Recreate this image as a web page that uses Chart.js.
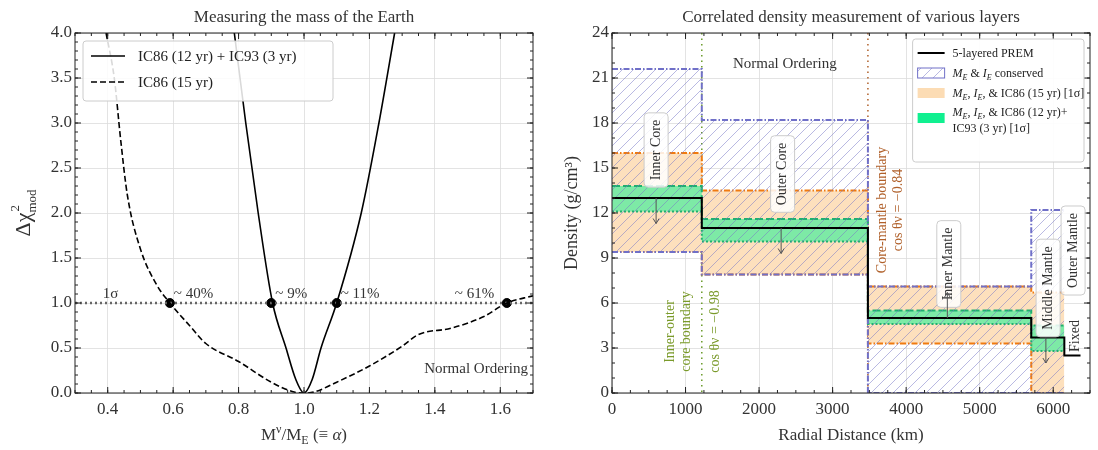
<!DOCTYPE html>
<html><head><meta charset="utf-8">
<script src="https://cdn.jsdelivr.net/npm/chart.js@4.4.1/dist/chart.umd.min.js"></script>
<style>body{margin:0;background:#fff}#w{display:flex;width:1098px;height:450px}.c{position:relative;width:549px;height:450px}</style>
</head><body><div id="w"><div class="c"><canvas id="a" width="549" height="450"></canvas></div><div class="c"><canvas id="b" width="549" height="450"></canvas></div></div>
<script>
// ---- Left panel data ----
const solidX = [0.787,0.822,0.86,0.904,0.945,0.975,1.0,1.025,1.052,1.10,1.175,1.229,1.277];
const solidY = [4.0,3.0,2.0,1.0,0.5,0.15,0.0,0.15,0.5,1.0,2.0,3.0,4.0];
const dashX = [0.395,0.42,0.44,0.46,0.5,0.55,0.59,0.65,0.7,0.8,0.9,0.97,1.0,1.03,1.1,1.2,1.3,1.35,1.45,1.55,1.62,1.7];
const dashY = [4.0,3.5,2.8,2.2,1.6,1.2,1.0,0.75,0.55,0.35,0.12,0.01,0,0.01,0.12,0.3,0.52,0.65,0.72,0.85,1.0,1.08];
const dotX = [0.59,0.9,1.1,1.62];
const dotLabels = ['~ 40%','~ 9%','~ 11%','~ 61%'];
// ---- Right panel data ----
const layerEdges = [0,1221,3480,5701,6151];
const blueUpper = [21.6,18.2,7.1,12.2];
const blueLower = [9.4,7.9,0,0];
const orangeUpper = [16.0,13.5,7.1,6.7];
const orangeLower = [9.4,7.9,3.3,0];
const greenUpper = [13.8,11.6,5.5,4.5];
const greenLower = [12.1,10.1,4.6,2.8];
const premEdges = [0,1221,3480,5701,6151,6371];
const premVals = [13.0,11.0,5.0,3.7,2.5];

const FONT = "'Liberation Serif', 'DejaVu Serif', serif";
Chart.defaults.font.family = FONT;
Chart.defaults.color = '#333';

function steps(edges, vals){
  const p=[];
  vals.forEach((v,i)=>{p.push({x:edges[i],y:v});p.push({x:edges[i+1],y:v});});
  return p;
}
function xy(xs,ys){return xs.map((x,i)=>({x,y:ys[i]}));}

function hatch(color){
  const s=11;const c=document.createElement('canvas');c.width=s;c.height=s;
  const g=c.getContext('2d');g.strokeStyle=color;g.lineWidth=0.7;
  g.beginPath();g.moveTo(0,s);g.lineTo(s,0);g.moveTo(-2,2);g.lineTo(2,-2);g.moveTo(s-2,s+2);g.lineTo(s+2,s-2);g.stroke();
  return g.createPattern(c,'repeat');
}

const tickPlugin = {id:'ticks',afterDraw(ch,args,o){
  const {ctx,chartArea:a,scales:{x,y}}=ch;
  ctx.save();ctx.strokeStyle='#222';ctx.lineWidth=1;
  ctx.strokeRect(a.left,a.top,a.right-a.left,a.bottom-a.top);
  const one=(p,len,horiz)=>{ctx.beginPath();
    if(horiz){ctx.moveTo(p,a.bottom);ctx.lineTo(p,a.bottom-len);ctx.moveTo(p,a.top);ctx.lineTo(p,a.top+len);}
    else{ctx.moveTo(a.left,p);ctx.lineTo(a.left+len,p);ctx.moveTo(a.right,p);ctx.lineTo(a.right-len,p);}ctx.stroke();};
  const n1=Math.round((x.max-x.min)/o.xmin);for(let i=0;i<=n1;i++)one(x.getPixelForValue(x.min+i*o.xmin),3,true);
  const n2=Math.round((y.max-y.min)/o.ymin);for(let i=0;i<=n2;i++)one(y.getPixelForValue(y.min+i*o.ymin),3,false);
  x.ticks.forEach(t=>one(x.getPixelForValue(t.value),6,true));
  y.ticks.forEach(t=>one(y.getPixelForValue(t.value),6,false));
  ctx.restore();
}};

const gridOpt={color:'#dcdcdc',lineWidth:0.8,tickLength:0};
const borderOpt={display:false};

// ---------- Left chart ----------
const leftAnno={id:'leftAnno',afterDraw(ch){
  const {ctx,chartArea:a,scales:{x,y}}=ch;ctx.save();
  ctx.fillStyle='#333';ctx.font='17px '+FONT;ctx.textAlign='center';
  ctx.fillText('Measuring the mass of the Earth',(a.left+a.right)/2,22);
  ctx.textAlign='left';const cx=(a.left+a.right)/2, ty=440;
  const parts=[['M',17,0],['ν',12,-7],['/M',17,0],['E',12,4],[' (≡ ',17,0],['α',17,0,'italic '],[')',17,0]];
  let tw=0;parts.forEach(p=>{ctx.font=(p[3]||'')+p[1]+'px '+FONT;tw+=ctx.measureText(p[0]).width;});
  let px=cx-tw/2;parts.forEach(p=>{ctx.font=(p[3]||'')+p[1]+'px '+FONT;ctx.fillText(p[0],px,ty+p[2]);px+=ctx.measureText(p[0]).width;});
  ctx.save();ctx.translate(24,(a.top+a.bottom)/2);ctx.rotate(-Math.PI/2);
  ctx.font='22px '+FONT;const w1=ctx.measureText('Δχ').width;ctx.font='13px '+FONT;const w2=ctx.measureText('mod').width;
  let sx=-(w1+w2)/2;ctx.font='22px '+FONT;ctx.fillText('Δχ',sx,6);ctx.font='13px '+FONT;ctx.fillText('2',sx+w1+1,-5);ctx.fillText('mod',sx+w1,12);
  ctx.restore();
  ctx.font='15px '+FONT;ctx.textAlign='left';
  ctx.fillText('1σ',x.getPixelForValue(0.385),y.getPixelForValue(1.06));
  dotLabels.forEach((t,i)=>{
    const p=x.getPixelForValue(dotX[i]);
    const off=i===3?-52:4;
    ctx.fillText(t,p+off,y.getPixelForValue(1.06));
  });
  ctx.textAlign='right';ctx.fillText('Normal Ordering',a.right-5,y.getPixelForValue(0.22));
  const lx=a.left+8,ly=a.top+8;
  ctx.fillStyle='rgba(255,255,255,0.85)';ctx.strokeStyle='#ccc';ctx.lineWidth=1;
  ctx.beginPath();ctx.roundRect(lx,ly,250,60,3);ctx.fill();ctx.stroke();
  ctx.strokeStyle='#000';ctx.lineWidth=1.6;
  ctx.beginPath();ctx.moveTo(lx+8,ly+15);ctx.lineTo(lx+42,ly+15);ctx.stroke();
  ctx.setLineDash([6,3]);ctx.beginPath();ctx.moveTo(lx+8,ly+41);ctx.lineTo(lx+42,ly+41);ctx.stroke();ctx.setLineDash([]);
  ctx.fillStyle='#222';ctx.textAlign='left';ctx.font='15px '+FONT;
  ctx.fillText('IC86 (12 yr) + IC93 (3 yr)',lx+55,ly+20);
  ctx.fillText('IC86 (15 yr)',lx+55,ly+46);
  ctx.restore();
}};
new Chart(document.getElementById('a'),{
  type:'scatter',
  data:{datasets:[
    {data:xy(solidX,solidY),showLine:true,borderColor:'#000',borderWidth:1.6,pointRadius:0,cubicInterpolationMode:'monotone'},
    {data:xy(dashX,dashY),showLine:true,borderColor:'#000',borderWidth:1.6,borderDash:[6,3],pointRadius:0,cubicInterpolationMode:'monotone'},
    {data:[{x:0.3,y:1},{x:1.7,y:1}],showLine:true,borderColor:'#666',borderWidth:2.5,borderDash:[2,3],pointRadius:0},
    {data:dotX.map(v=>({x:v,y:1})),pointRadius:4.5,pointBackgroundColor:'#000',pointBorderColor:'#000'}
  ]},
  options:{responsive:false,animation:false,events:[],
    layout:{padding:{top:33,right:16,left:0,bottom:0}},
    plugins:{legend:{display:false},tooltip:{enabled:false},ticks:{xmin:0.05,ymin:0.1}},
    scales:{
      x:{type:'linear',min:0.3,max:1.7,grid:gridOpt,border:borderOpt,
        afterBuildTicks:s=>{s.ticks=[0.4,0.6,0.8,1.0,1.2,1.4,1.6].map(v=>({value:v}));},
        ticks:{font:{size:17},color:'#333',padding:6,callback:v=>Number(v).toFixed(1)},
        afterFit:s=>{s.height=57;}},
      y:{min:0,max:4,grid:gridOpt,border:borderOpt,
        ticks:{stepSize:0.5,font:{size:17},color:'#333',callback:v=>v.toFixed(1)},
        afterFit:s=>{s.width=75;}}
    }},
  plugins:[tickPlugin,leftAnno]
});
// ---------- Right chart ----------
const blueH=hatch('rgba(120,120,200,0.75)');
function rot(ctx,t,x,y,color,size,box){
  ctx.save();ctx.translate(x,y);ctx.rotate(-Math.PI/2);ctx.font=size+'px '+FONT;ctx.textAlign='center';ctx.textBaseline='middle';
  if(box){const w=ctx.measureText(t).width+14;ctx.fillStyle='rgba(255,255,255,0.85)';ctx.strokeStyle='#ccc';ctx.beginPath();ctx.roundRect(-w/2,-12,w,24,4);ctx.fill();ctx.stroke();}
  ctx.fillStyle=color;ctx.fillText(t,0,0);ctx.restore();
}
function arrow(ctx,x,y1,y2){
  ctx.save();ctx.strokeStyle='#555';ctx.lineWidth=1;
  ctx.beginPath();ctx.moveTo(x,y1);ctx.lineTo(x,y2);ctx.stroke();
  const d=y2>y1?-5:5;
  ctx.beginPath();ctx.moveTo(x-3,y2+d);ctx.lineTo(x,y2);ctx.lineTo(x+3,y2+d);ctx.stroke();ctx.restore();
}
function mixed(ctx,parts,x,y){
  let px=x;parts.forEach(p=>{ctx.font=(p[3]||'')+p[1]+'px '+FONT;ctx.fillText(p[0],px,y+p[2]);px+=ctx.measureText(p[0]).width;});
}
const rightAnno={id:'rightAnno',beforeDatasetsDraw(ch){
  const {ctx,chartArea:a,scales:{x}}=ch;ctx.save();ctx.lineWidth=1.5;ctx.setLineDash([1.5,4]);
  ctx.strokeStyle='#6a9a2a';let px=x.getPixelForValue(1221);ctx.beginPath();ctx.moveTo(px,a.top);ctx.lineTo(px,a.bottom);ctx.stroke();
  ctx.strokeStyle='#b0602a';px=x.getPixelForValue(3480);ctx.beginPath();ctx.moveTo(px,a.top);ctx.lineTo(px,a.bottom);ctx.stroke();
  ctx.restore();
},afterDraw(ch){
  const {ctx,chartArea:a,scales:{x,y}}=ch;ctx.save();
  ctx.fillStyle='#333';ctx.font='17px '+FONT;ctx.textAlign='center';
  ctx.fillText('Correlated density measurement of various layers',(a.left+a.right)/2,22);
  ctx.fillText('Radial Distance (km)',(a.left+a.right)/2,440);
  ctx.save();ctx.translate(22,(a.top+a.bottom)/2);ctx.rotate(-Math.PI/2);ctx.font='18px '+FONT;ctx.fillText('Density (g/cm³)',0,6);ctx.restore();
  const X=v=>x.getPixelForValue(v),Y=v=>y.getPixelForValue(v);
  ctx.font='15px '+FONT;ctx.fillText('Normal Ordering',X(2350),Y(21.7));
  rot(ctx,'Inner Core',X(600),Y(16.2),'#333',14,true);
  rot(ctx,'Outer Core',X(2320),Y(14.6),'#333',14,true);
  rot(ctx,'Inner Mantle',X(4580),Y(8.6),'#333',14,true);
  rot(ctx,'Middle Mantle',X(5930),Y(7.0),'#333',14,true);
  rot(ctx,'Outer Mantle',X(6270),Y(9.5),'#333',14,true);
  rot(ctx,'Fixed',X(6300),Y(3.8),'#333',14,false);
  rot(ctx,'Inner-outer',X(790),Y(4.1),'#7a9a2a',14,false);
  rot(ctx,'core boundary',X(1010),Y(4.1),'#7a9a2a',14,false);
  rot(ctx,'cos θν = −0.98',X(1400),Y(4.1),'#7a9a2a',14,false);
  rot(ctx,'Core-mantle boundary',X(3680),Y(12.2),'#b0602a',14,false);
  rot(ctx,'cos θν = −0.84',X(3900),Y(12.2),'#b0602a',14,false);
  arrow(ctx,X(600),Y(13.0),Y(11.3));arrow(ctx,X(2300),Y(11.0),Y(9.3));
  arrow(ctx,X(4560),Y(5.0),Y(6.7));arrow(ctx,X(5900),Y(3.7),Y(2.0));
  const lx=X(3680)+30,ly=a.top+6,w=a.right-lx-6,h=123;
  ctx.fillStyle='rgba(255,255,255,0.92)';ctx.strokeStyle='#ccc';ctx.lineWidth=1;ctx.beginPath();ctx.roundRect(lx,ly,w,h,3);ctx.fill();ctx.stroke();
  ctx.strokeStyle='#000';ctx.lineWidth=2;ctx.beginPath();ctx.moveTo(lx+5,ly+14);ctx.lineTo(lx+32,ly+14);ctx.stroke();
  ctx.fillStyle=blueH;ctx.fillRect(lx+5,ly+29,27,10);ctx.strokeStyle='#7070c8';ctx.lineWidth=1;ctx.strokeRect(lx+5,ly+29,27,10);
  ctx.fillStyle='#fcdcb4';ctx.fillRect(lx+5,ly+49,27,10);
  ctx.fillStyle='#10f090';ctx.fillRect(lx+5,ly+74,27,10);
  ctx.fillStyle='#222';ctx.textAlign='left';
  const I='italic ';
  mixed(ctx,[['5-layered PREM',12,0]],lx+40,ly+18);
  mixed(ctx,[['M',12,0,I],['E',8,3,I],[' & ',12,0],['I',12,0,I],['E',8,3,I],[' conserved',12,0]],lx+40,ly+38);
  mixed(ctx,[['M',12,0,I],['E',8,3,I],[', ',12,0],['I',12,0,I],['E',8,3,I],[', & IC86 (15 yr) [1σ]',12,0]],lx+40,ly+58);
  mixed(ctx,[['M',12,0,I],['E',8,3,I],[', ',12,0],['I',12,0,I],['E',8,3,I],[', & IC86 (12 yr)+',12,0]],lx+40,ly+77);
  mixed(ctx,[['IC93 (3 yr) [1σ]',12,0]],lx+40,ly+93);
  ctx.restore();
}};
const line=(vals,color,dash,fill,bg,w,order)=>({data:steps(layerEdges,vals),showLine:true,borderColor:color,borderWidth:w||1.5,borderDash:dash,pointRadius:0,fill:fill,backgroundColor:bg,order:order});
new Chart(document.getElementById('b'),{
  type:'scatter',
  data:{datasets:[
    line(orangeLower,'#f07a10',[6,2,1.5,2],false,'transparent',2,5),
    line(orangeUpper,'#f07a10',[6,2,1.5,2],'-1','#fde0bd',2,5),
    line(greenLower,'#20b070',[2,2],false,'transparent',2,4),
    line(greenUpper,'#20b070',[8,3],'-1','rgba(40,240,150,0.6)',2,4),
    line(blueLower,'#7070c8',[6,2,1.5,2],false,'transparent',2,3),
    line(blueUpper,'#7070c8',[6,2,1.5,2],'-1',blueH,2,3),
    {data:steps(premEdges,premVals),showLine:true,borderColor:'#000',borderWidth:2,pointRadius:0,order:1}
  ]},
  options:{responsive:false,animation:false,events:[],
    layout:{padding:{top:33,right:8,left:0,bottom:0}},
    plugins:{legend:{display:false},tooltip:{enabled:false},ticks:{xmin:250,ymin:1},filler:{propagate:false}},
    scales:{
      x:{type:'linear',min:0,max:6500,grid:gridOpt,border:borderOpt,
        afterBuildTicks:s=>{s.ticks=[0,1000,2000,3000,4000,5000,6000].map(v=>({value:v}));},
        ticks:{font:{size:17},color:'#333',padding:6,callback:v=>String(v)},
        afterFit:s=>{s.height=57;}},
      y:{min:0,max:24,grid:gridOpt,border:borderOpt,
        ticks:{stepSize:3,font:{size:17},color:'#333'},
        afterFit:s=>{s.width=63;}}
    }},
  plugins:[tickPlugin,rightAnno]
});
</script></body></html>
